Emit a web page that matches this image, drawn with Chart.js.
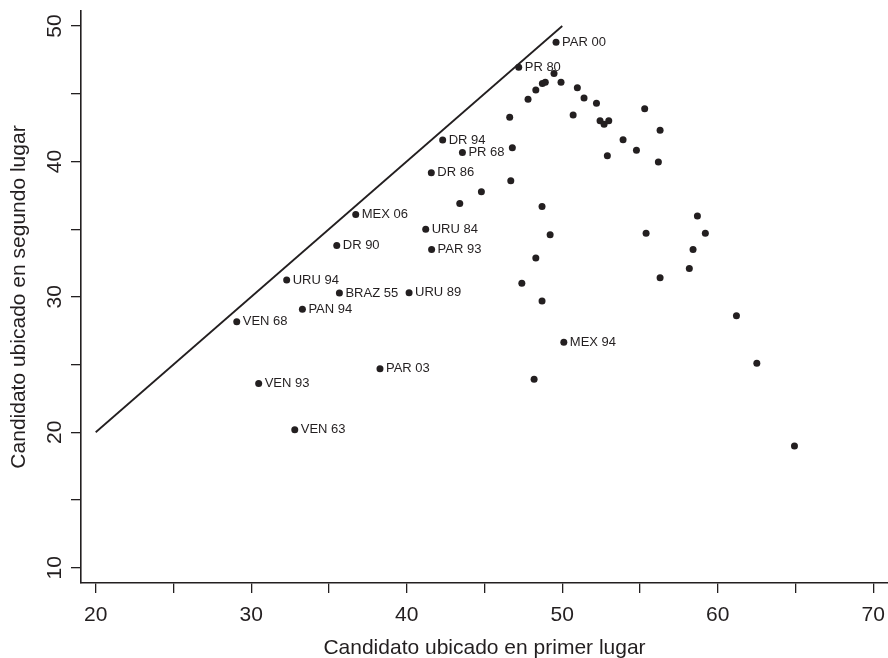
<!DOCTYPE html>
<html>
<head>
<meta charset="utf-8">
<script src="https://cdn.jsdelivr.net/npm/chart.js@4.4.1/dist/chart.umd.min.js"></script>
<style>html,body{margin:0;padding:0;background:#fff}</style>
</head>
<body>
<canvas id="grafico" width="888" height="658"></canvas>
<script>
// datos: primer lugar (x) vs segundo lugar (y)
const primerLugar = [49.6, 47.2, 49.47, 48.72, 48.91, 49.92, 48.3, 47.8, 50.97, 51.4, 52.2, 46.62, 50.7, 52.43, 52.69, 52.99,
  55.3, 56.29, 53.91, 54.77, 52.9, 56.18, 58.69, 55.39, 59.2, 58.41, 58.17, 56.29, 61.2, 62.51, 64.93,
  42.31, 43.58, 46.79, 41.58, 46.69, 44.8, 43.41, 48.7, 36.72, 41.22, 49.22, 35.5, 41.6, 48.3, 32.28,
  47.4, 35.67, 40.15, 48.7, 33.29, 29.07, 30.48, 32.8, 38.28, 50.1, 48.19];
const segundoLugar = [48.8, 46.95, 46.5, 45.76, 45.84, 45.84, 45.27, 44.6, 45.44, 44.68, 44.29, 43.26, 43.43, 43.0, 42.74, 43.0,
  43.9, 42.3, 41.6, 40.82, 40.42, 39.96, 35.97, 34.69, 34.69, 33.5, 32.1, 31.41, 28.6, 25.09, 18.98,
  41.58, 40.67, 41.01, 39.17, 38.58, 37.76, 36.9, 36.68, 36.09, 35.0, 34.59, 33.8, 33.5, 32.87, 31.24,
  31.0, 30.28, 30.3, 29.69, 29.08, 28.16, 23.61, 20.18, 24.69, 26.64, 23.91];
const etiquetas = ['PAR 00', 'PR 80', '', '', '', '', '', '', '', '', '', '', '', '', '', '',
  '', '', '', '', '', '', '', '', '', '', '', '', '', '', '',
  'DR 94', 'PR 68', '', 'DR 86', '', '', '', '', 'MEX 06', 'URU 84', '', 'DR 90', 'PAR 93', '', 'URU 94',
  '', 'BRAZ 55', 'URU 89', '', 'PAN 94', 'VEN 68', 'VEN 93', 'VEN 63', 'PAR 03', 'MEX 94', ''];
const diagonal = [20, 50];
const xTicks = [20, 25, 30, 35, 40, 45, 50, 55, 60, 65, 70];
const yTicks = [10, 15, 20, 25, 30, 35, 40, 45, 50];

const tinta = '#231f20';
const fuente = '"Liberation Sans", Arial, sans-serif';

// etiquetas de puntos y numeros del eje y (rotados)
const textos = {
  id: 'textos',
  afterDatasetsDraw(chart) {
    const {ctx, scales: {x, y}} = chart;
    ctx.save();
    ctx.fillStyle = tinta;
    ctx.font = '13px ' + fuente;
    ctx.textAlign = 'left';
    ctx.textBaseline = 'middle';
    etiquetas.forEach((t, i) => {
      if (!t) return;
      ctx.fillText(t, x.getPixelForValue(primerLugar[i]) + 6, y.getPixelForValue(segundoLugar[i]));
    });
    ctx.restore();
  },
  afterDraw(chart) {
    const {ctx, scales: {y}} = chart;
    ctx.save();
    ctx.fillStyle = tinta;
    ctx.font = '21px ' + fuente;
    ctx.textAlign = 'center';
    ctx.textBaseline = 'middle';
    yTicks.forEach(v => {
      if (v % 10 !== 0) return;
      ctx.save();
      ctx.translate(55, y.getPixelForValue(v));
      ctx.rotate(-Math.PI / 2);
      ctx.fillText(String(v), 0, 0);
      ctx.restore();
    });
    ctx.restore();
  }
};

new Chart(document.getElementById('grafico'), {
  type: 'scatter',
  data: {
    datasets: [{
      data: primerLugar.map((v, i) => ({x: v, y: segundoLugar[i]})),
      backgroundColor: tinta,
      borderWidth: 0,
      pointRadius: 3.5
    }, {
      data: diagonal.map(v => ({x: v, y: v})),
      showLine: true,
      borderColor: tinta,
      borderWidth: 1.8,
      pointRadius: 0
    }]
  },
  options: {
    responsive: false,
    devicePixelRatio: 1,
    animation: false,
    layout: {autoPadding: false, padding: {top: 11, right: 0, left: 0, bottom: 0}},
    plugins: {legend: {display: false}, tooltip: {enabled: false}},
    scales: {
      x: {
        type: 'linear',
        min: 19.055,
        max: 70.945,
        afterBuildTicks: s => { s.ticks = xTicks.map(v => ({value: v})); },
        afterFit: s => { s.height = 75; s.paddingLeft = 0; s.paddingRight = 0; },
        grid: {drawOnChartArea: false, drawTicks: true, tickLength: 10, color: tinta, lineWidth: 1.3},
        border: {display: true, color: tinta, width: 1.6},
        ticks: {
          color: tinta,
          font: {family: fuente, size: 21},
          padding: 10,
          maxRotation: 0,
          autoSkip: false,
          callback: v => (v % 10 === 0 ? String(v) : '')
        },
        title: {
          display: true,
          text: 'Candidato ubicado en primer lugar',
          color: tinta,
          font: {family: fuente, size: 21, lineHeight: 0.9},
          padding: 0
        }
      },
      y: {
        type: 'linear',
        min: 8.87,
        max: 51.11,
        afterBuildTicks: s => { s.ticks = yTicks.map(v => ({value: v})); },
        afterFit: s => { s.width = 81; s.paddingTop = 0; s.paddingBottom = 0; },
        grid: {drawOnChartArea: false, drawTicks: true, tickLength: 10, color: tinta, lineWidth: 1.3},
        border: {display: true, color: tinta, width: 1.6},
        ticks: {display: false},
        title: {
          display: true,
          text: 'Candidato ubicado en segundo lugar',
          color: tinta,
          font: {family: fuente, size: 21, lineHeight: 1},
          padding: {top: 9, bottom: 0}
        }
      }
    }
  },
  plugins: [textos]
});
</script>
</body>
</html>
